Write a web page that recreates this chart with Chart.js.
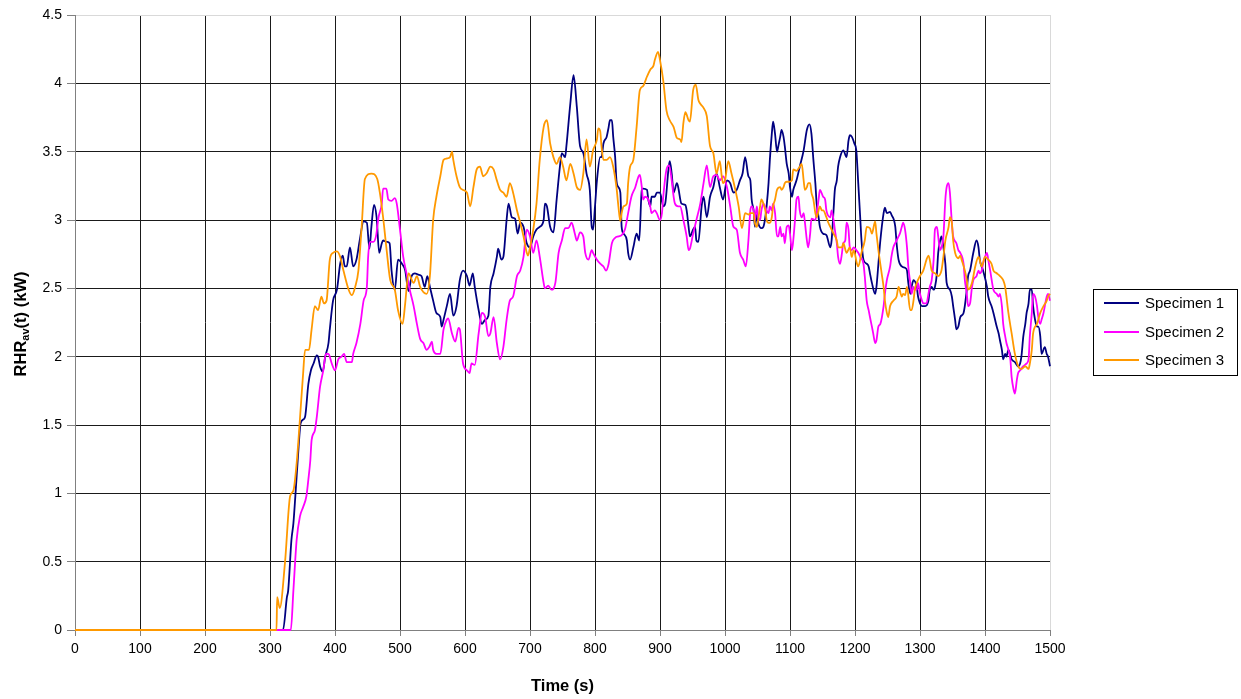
<!DOCTYPE html>
<html>
<head>
<meta charset="utf-8">
<script src="https://cdn.jsdelivr.net/npm/chart.js@4.4.1/dist/chart.umd.min.js"></script>
<style>
html,body{margin:0;padding:0;background:#fff;}
#wrap{position:relative;width:1241px;height:699px;}
canvas{display:block;}
</style>
</head>
<body>
<div id="wrap"><canvas id="c" width="1241" height="699"></canvas></div>
<script>
// ---- Data (time in s, RHR_av in kW) ----
const seriesNames = ['Specimen 1', 'Specimen 2', 'Specimen 3'];
const xTicks = [0,100,200,300,400,500,600,700,800,900,1000,1100,1200,1300,1400,1500];
const yTicks = [0,0.5,1,1.5,2,2.5,3,3.5,4,4.5];

const time1 = [0,320,326,328,333,336,339,344,347,351,354,359,363,367,372,374,377,381,385,390,392,397,403,408,412,415,418,423,428,433,438,444,449,453,456,460,464,468,472,474,480,484,487,492,497,503,508,513,518,523,528,533,538,542,
546,551,556,562,564,567,572,577,582,587,592,597,603,607,612,615,621,626,631,636,639,644,649,651,656,659,664,667,672,677,681,685,690,695,700,705,710,715,721,723,726,731,736,741,746,749,754,756,762,767,772,777,782,787,792,
795,797,800,803,808,810,813,818,821,823,826,828,831,833,836,839,841,844,849,851,854,859,864,868,872,874,880,882,885,887,892,895,900,905,908,913,915,918,921,926,928,933,939,941,944,946,951,954,956,959,964,967,972,977,982,987,992,997,1003,1008,1013,1018,1023,1027,1031,1036,
1039,1041,1044,1046,1049,1051,1056,1059,1062,1064,1067,1069,1072,1074,1077,1080,1082,1085,1087,1090,1092,1095,1098,1100,1103,1105,1110,1115,1121,1126,1130,1133,1136,1139,1141,1144,1146,1151,1156,1162,1164,1167,1169,1172,1174,1177,1182,1187,1190,1192,1195,1199,1202,1205,1208,1210,1213,1218,1221,1223,1226,1231,1233,1236,1239,1244,1246,1249,1254,1256,1262,1264,1267,
1272,1277,1280,1282,1285,1287,1290,1295,1297,1300,1303,1308,1313,1315,1318,1321,1323,1326,1328,1331,1333,1336,1339,1341,1346,1349,1351,1354,1356,1359,1362,1367,1372,1374,1377,1382,1387,1390,1392,1397,1403,1405,1410,1413,1418,1421,1423,1426,1428,1431,1433,1436,1441,1446,1451,1454,1456,1459,1462,1464,1467,1469,1472,1474,1477,1480,1482,1485,1487,1492,1495,1497,1500];
const rhr1 = [0,0,0.24,0.29,0.66,0.78,0.98,1.34,1.51,1.54,1.56,1.80,1.90,1.95,2.01,2.00,1.93,1.89,2.00,2.10,2.20,2.41,2.49,2.68,2.74,2.66,2.66,2.80,2.66,2.71,2.85,2.99,2.98,2.79,2.95,3.11,3.02,2.76,2.83,2.85,2.84,2.83,2.63,2.49,2.71,2.68,2.63,2.48,2.59,2.61,2.60,2.59,2.51,2.59,
2.51,2.41,2.32,2.29,2.22,2.27,2.37,2.46,2.30,2.37,2.56,2.63,2.59,2.52,2.61,2.51,2.34,2.24,2.27,2.30,2.51,2.61,2.73,2.79,2.71,2.73,3.00,3.12,3.02,3.01,2.90,2.98,2.95,2.83,2.80,2.88,2.93,2.95,3.00,3.12,3.10,2.95,2.91,3.15,3.39,3.49,3.46,3.54,3.85,4.06,3.83,3.54,3.49,3.34,3.22,
2.95,2.93,3.10,3.29,3.46,3.46,3.56,3.61,3.68,3.73,3.73,3.61,3.46,3.29,3.24,3.20,2.95,2.90,2.85,2.76,2.71,2.80,2.90,2.85,3.22,3.23,3.22,3.15,3.10,3.17,3.17,3.20,3.20,3.10,3.12,3.37,3.43,3.34,3.20,3.27,3.24,3.12,3.11,3.07,2.95,2.88,2.93,2.95,2.85,2.84,3.10,3.17,3.02,3.17,3.24,3.34,3.24,3.15,3.29,3.27,3.20,3.22,3.29,3.34,3.46,3.32,
3.29,3.15,3.07,2.95,3.04,2.98,2.94,2.95,3.02,3.10,3.27,3.44,3.63,3.72,3.63,3.50,3.54,3.61,3.66,3.61,3.54,3.41,3.34,3.24,3.17,3.22,3.29,3.39,3.51,3.66,3.70,3.63,3.44,3.27,3.12,3.02,2.95,2.90,2.89,2.80,2.85,3.07,3.22,3.29,3.39,3.46,3.51,3.46,3.58,3.62,3.61,3.56,3.51,3.27,3.02,2.85,2.71,2.68,2.66,2.61,2.54,2.46,2.51,2.68,2.85,3.05,3.09,3.05,3.06,3.04,2.95,2.83,2.71,
2.66,2.65,2.63,2.54,2.46,2.51,2.56,2.51,2.44,2.39,2.37,2.37,2.41,2.49,2.51,2.49,2.51,2.61,2.76,2.85,2.88,2.80,2.68,2.54,2.49,2.44,2.37,2.27,2.20,2.22,2.29,2.32,2.49,2.59,2.63,2.76,2.85,2.80,2.71,2.63,2.51,2.44,2.37,2.32,2.22,2.17,2.12,2.05,1.98,2.02,2.00,2.05,1.98,1.96,1.93,1.95,2.00,2.15,2.24,2.32,2.39,2.49,2.49,2.37,2.27,2.22,2.22,2.15,2.02,2.07,2.02,2.00,1.93];

const time2 = [0,332,336,341,346,351,356,359,362,364,369,372,377,382,386,390,395,400,405,410,414,418,426,428,433,439,444,449,451,454,459,463,467,472,474,479,482,487,492,495,500,505,510,515,521,526,531,536,541,545,
549,551,556,562,567,572,574,580,585,590,592,597,603,607,610,615,621,626,631,636,639,644,649,654,659,664,669,674,680,685,690,695,700,705,710,715,721,723,728,733,739,744,749,754,759,764,769,772,777,782,785,790,
795,797,803,808,813,817,821,826,831,836,841,846,851,856,862,867,869,872,874,877,882,885,887,892,895,900,903,905,910,914,918,921,923,928,931,936,941,944,946,951,956,962,967,972,977,982,987,992,997,1003,1008,1013,1018,1023,1028,1032,1036,
1039,1041,1044,1046,1049,1051,1054,1056,1059,1064,1067,1069,1072,1074,1077,1080,1082,1085,1087,1090,1092,1095,1098,1100,1103,1105,1108,1110,1113,1115,1118,1121,1123,1126,1128,1131,1133,1139,1141,1144,1146,1151,1154,1156,1162,1164,1167,1169,1172,1174,1177,1180,1182,1185,1187,1190,1192,1195,1198,1202,1205,1208,1213,1215,1218,1221,1223,1226,1228,1231,1233,1236,1239,1244,1246,1249,1254,1256,1259,1264,1267,
1269,1272,1274,1277,1280,1282,1285,1287,1290,1292,1295,1297,1300,1303,1305,1310,1313,1315,1318,1321,1323,1326,1328,1331,1333,1336,1339,1341,1344,1346,1349,1351,1356,1359,1362,1367,1369,1372,1374,1377,1380,1382,1387,1390,1392,1395,1397,1400,1403,1405,1408,1413,1418,1421,1423,1426,1428,1431,1433,1436,1439,1441,1444,1446,1449,1451,1454,1459,1464,1467,1469,1472,1474,1477,1480,1482,1485,1487,1490,1495,1497,1500];
const rhr2 = [0,0,0.29,0.66,0.83,0.90,0.98,1.10,1.24,1.39,1.46,1.56,1.78,1.90,2.02,2.02,1.95,1.90,1.98,2.00,2.02,1.96,1.96,2.02,2.10,2.24,2.41,2.51,2.73,2.84,2.84,2.88,3.02,3.12,3.23,3.23,3.15,3.14,3.16,3.12,2.93,2.73,2.61,2.49,2.37,2.24,2.13,2.10,2.05,2.07,
2.11,2.05,2.02,2.02,2.20,2.27,2.28,2.17,2.11,2.21,2.20,1.95,1.90,1.88,1.95,1.94,2.17,2.32,2.29,2.15,2.17,2.29,2.10,1.98,2.07,2.27,2.41,2.44,2.59,2.63,2.73,2.93,2.88,2.76,2.85,2.73,2.54,2.50,2.52,2.49,2.54,2.76,2.85,2.94,2.94,2.98,2.90,2.85,2.91,2.88,2.76,2.71,
2.78,2.76,2.71,2.68,2.66,2.63,2.68,2.83,2.87,2.88,2.89,2.93,3.05,3.17,3.24,3.32,3.33,3.24,3.15,3.17,3.15,3.10,3.05,3.07,3.05,3.00,3.05,3.17,3.37,3.40,3.29,3.17,3.12,3.10,3.10,3.00,2.88,2.78,2.79,2.90,3.00,3.12,3.27,3.40,3.24,3.32,3.33,3.29,3.32,3.24,3.10,2.95,2.93,2.76,2.71,2.66,2.85,
3.07,3.10,3.07,3.00,3.10,3.02,3.00,3.07,3.12,3.07,3.05,3.10,3.07,3.12,3.05,2.88,2.88,2.95,2.88,2.90,2.83,2.95,2.96,2.90,2.78,2.85,3.02,3.15,3.17,3.07,3.02,3.05,2.98,2.85,2.80,2.90,3.01,3.00,3.05,3.15,3.22,3.17,3.15,3.07,3.02,3.07,3.00,2.93,2.83,2.73,2.68,2.76,2.83,2.85,2.98,2.93,2.80,2.78,2.80,2.78,2.76,2.73,2.68,2.59,2.41,2.34,2.29,2.22,2.17,2.10,2.12,2.22,2.24,2.37,2.46,2.56,2.66,2.73,2.80,2.85,2.88,
2.90,2.95,2.98,2.93,2.80,2.66,2.54,2.46,2.51,2.49,2.49,2.54,2.46,2.41,2.39,2.39,2.46,2.51,2.56,2.71,2.93,2.95,2.88,2.78,2.80,2.88,3.15,3.24,3.27,3.20,2.98,2.88,2.83,2.78,2.76,2.68,2.56,2.46,2.37,2.39,2.51,2.56,2.59,2.63,2.61,2.63,2.68,2.73,2.76,2.71,2.63,2.49,2.46,2.44,2.46,2.37,2.24,2.15,2.10,2.05,1.98,1.85,1.76,1.73,1.83,1.88,1.90,1.93,1.95,1.98,2.15,2.32,2.46,2.44,2.37,2.29,2.24,2.27,2.32,2.44,2.46,2.41];

const time3 = [0,310,311,315,323,331,336,341,346,351,354,360,364,369,374,379,383,387,392,397,403,408,413,421,426,431,436,441,446,456,465,469,474,479,485,492,497,504,508,513,521,526,531,541,
546,551,556,562,567,572,577,580,582,587,592,597,603,608,613,618,623,628,633,639,644,649,654,659,664,669,674,680,685,690,695,697,700,705,710,715,721,726,731,736,741,746,751,756,762,767,772,777,782,787,
792,797,803,805,808,810,813,818,823,828,833,836,839,841,844,849,851,854,859,864,869,874,880,885,890,892,897,900,905,910,915,921,926,931,933,936,939,944,946,951,955,959,962,967,972,977,982,987,992,995,997,1000,1005,1010,1015,1021,1026,1031,1036,
1039,1044,1046,1049,1051,1054,1056,1059,1062,1064,1067,1069,1072,1074,1077,1080,1085,1087,1090,1092,1095,1099,1103,1105,1110,1115,1118,1121,1123,1126,1128,1131,1133,1136,1139,1141,1146,1149,1151,1156,1159,1162,1167,1172,1174,1180,1182,1187,1192,1195,1198,1203,1205,1210,1215,1218,1223,1226,1231,1233,1236,1241,1244,1246,1249,1251,1254,1259,1264,1267,
1272,1274,1277,1280,1285,1287,1290,1292,1295,1300,1305,1310,1313,1315,1318,1323,1328,1333,1336,1339,1344,1346,1349,1351,1354,1359,1362,1364,1369,1372,1374,1380,1385,1390,1395,1400,1405,1410,1413,1418,1423,1428,1431,1436,1441,1446,1451,1456,1462,1467,1469,1472,1474,1480,1485,1490,1495,1497,1500];
const rhr3 = [0,0,0.24,0.16,0.49,0.98,1.02,1.22,1.54,1.88,2.05,2.05,2.20,2.37,2.34,2.44,2.39,2.41,2.71,2.76,2.77,2.73,2.63,2.49,2.45,2.51,2.63,2.95,3.30,3.34,3.30,3.20,3.02,2.80,2.56,2.49,2.34,2.24,2.39,2.61,2.54,2.59,2.51,2.46,
2.59,3.00,3.17,3.32,3.44,3.45,3.46,3.50,3.44,3.32,3.24,3.22,3.20,3.10,3.24,3.37,3.39,3.32,3.34,3.39,3.37,3.29,3.22,3.20,3.17,3.27,3.20,3.07,2.98,2.88,2.76,2.74,2.80,2.93,3.12,3.44,3.68,3.73,3.56,3.46,3.41,3.46,3.39,3.29,3.41,3.34,3.24,3.22,3.34,3.59,
3.39,3.51,3.59,3.67,3.65,3.54,3.44,3.44,3.46,3.39,3.24,3.10,2.99,3.05,3.10,3.12,3.27,3.39,3.44,3.68,3.95,3.98,4.05,4.10,4.13,4.17,4.23,4.17,4.02,3.80,3.73,3.68,3.60,3.59,3.57,3.71,3.79,3.73,3.72,3.95,3.99,3.88,3.85,3.82,3.76,3.54,3.49,3.34,3.43,3.32,3.27,3.29,3.43,3.34,3.24,3.10,2.94,3.05,3.04,
3.05,3.05,2.98,2.95,3.00,3.10,3.15,3.12,3.07,3.00,2.98,2.98,3.02,3.10,3.15,3.22,3.24,3.22,3.24,3.27,3.28,3.28,3.29,3.37,3.36,3.39,3.41,3.29,3.22,3.24,3.27,3.27,3.20,3.15,3.05,3.02,3.10,3.07,3.07,3.02,2.98,2.95,2.90,2.85,2.80,2.80,2.83,2.76,2.80,2.73,2.78,2.68,2.66,2.76,2.85,2.95,2.94,2.90,2.99,2.90,2.78,2.61,2.51,2.41,2.32,2.29,2.37,2.41,2.44,2.51,
2.44,2.46,2.45,2.51,2.34,2.34,2.41,2.49,2.54,2.59,2.63,2.71,2.74,2.71,2.63,2.61,2.59,2.63,2.73,2.85,2.95,3.02,2.98,2.85,2.76,2.72,2.74,2.71,2.63,2.56,2.49,2.54,2.66,2.73,2.66,2.73,2.71,2.68,2.63,2.61,2.59,2.56,2.51,2.32,2.17,2.02,1.93,1.91,1.93,1.91,1.95,2.05,2.17,2.24,2.32,2.37,2.41,2.44,2.46];

const seriesColors = ['#000080', '#FF00FF', '#FF9900'];

function toPoints(t, v) { return t.map((x, i) => ({ x: x, y: v[i] })); }

const FONT = '"Liberation Sans", Arial, sans-serif';

const customDecor = {
  id: 'customDecor',
  afterDraw(chart) {
    const ctx = chart.ctx;
    ctx.save();
    // Y axis title with subscript
    const cy = 324;
    const cx = 21;
    ctx.translate(cx, cy);
    ctx.rotate(-Math.PI / 2);
    ctx.fillStyle = '#000';
    ctx.textBaseline = 'middle';
    ctx.textAlign = 'left';
    const big = 'bold 16.5px ' + FONT;
    const small = 'bold 11px ' + FONT;
    const p1 = 'RHR', p2 = 'av', p3 = '(t) (kW)';
    ctx.font = big; const w1 = ctx.measureText(p1).width; const w3 = ctx.measureText(p3).width;
    ctx.font = small; const w2 = ctx.measureText(p2).width;
    let x = -(w1 + w2 + w3) / 2;
    ctx.font = big; ctx.fillText(p1, x, 0); x += w1;
    ctx.font = small; ctx.fillText(p2, x, 4.5); x += w2;
    ctx.font = big; ctx.fillText(p3, x, 0);
    ctx.restore();

    // Legend
    ctx.save();
    const bx = 1093.5, by = 289.5, bw = 144, bh = 86;
    ctx.fillStyle = '#fff';
    ctx.fillRect(bx, by, bw, bh);
    ctx.strokeStyle = '#000';
    ctx.lineWidth = 1;
    ctx.strokeRect(bx, by, bw, bh);
    const rows = [303, 332, 360];
    ctx.font = '15px ' + FONT;
    ctx.textBaseline = 'middle';
    ctx.textAlign = 'left';
    seriesNames.forEach((name, i) => {
      ctx.strokeStyle = seriesColors[i];
      ctx.lineWidth = 2;
      ctx.beginPath();
      ctx.moveTo(1104, rows[i]);
      ctx.lineTo(1139, rows[i]);
      ctx.stroke();
      ctx.fillStyle = '#000';
      ctx.fillText(name, 1145, rows[i] + 1);
    });
    ctx.restore();
  }
};

function makeDataset(i, t, v, order) {
  return {
    label: seriesNames[i], data: toPoints(t, v), borderColor: seriesColors[i], backgroundColor: seriesColors[i],
    borderWidth: 1.8, pointRadius: 0, tension: 0.35, cubicInterpolationMode: 'monotone',
    fill: false, order: order, clip: { left: 2, top: 2, right: 2, bottom: 3 }
  };
}

new Chart(document.getElementById('c'), {
  type: 'line',
  data: {
    datasets: [
      makeDataset(0, time1, rhr1, 2),
      makeDataset(1, time2, rhr2, 1),
      makeDataset(2, time3, rhr3, 0)
    ]
  },
  options: {
    responsive: false,
    animation: false,
    devicePixelRatio: 1,
    layout: { padding: { left: 30, right: 191, top: 15, bottom: 0 } },
    plugins: { legend: { display: false }, tooltip: { enabled: false } },
    scales: {
      x: {
        type: 'linear', min: xTicks[0], max: xTicks[xTicks.length - 1],
        afterFit(s) { s.height = 69; },
        afterBuildTicks(s) { s.ticks = xTicks.map(v => ({ value: v })); },
        ticks: { color: '#000', font: { size: 14, family: FONT }, padding: 5, maxRotation: 0, autoSkip: false, callback: v => String(v) },
        grid: {
          color: c => (c.tick && c.tick.value === 1500) ? '#d9d9d9' : (c.tick && c.tick.value === 0 ? 'rgba(0,0,0,0)' : '#1a1a1a'),
          tickColor: '#808080', tickLength: 6, lineWidth: 1
        },
        border: { color: '#808080', width: 1 },
        title: { display: true, text: 'Time (s)', color: '#000', font: { size: 16.5, weight: 'bold', family: FONT }, padding: { top: 0, bottom: 3 } }
      },
      y: {
        min: yTicks[0], max: yTicks[yTicks.length - 1],
        afterFit(s) { s.width = 45; },
        afterBuildTicks(s) { s.ticks = yTicks.map(v => ({ value: v })); },
        ticks: { color: '#000', font: { size: 14, family: FONT }, padding: 5, callback: v => String(v) },
        grid: {
          color: c => (c.tick && c.tick.value === 4.5) ? '#d9d9d9' : (c.tick && c.tick.value === 0 ? 'rgba(0,0,0,0)' : '#1a1a1a'),
          tickColor: '#808080', tickLength: 8, lineWidth: 1
        },
        border: { color: '#808080', width: 1 }
      }
    }
  },
  plugins: [customDecor]
});
</script>
</body>
</html>
